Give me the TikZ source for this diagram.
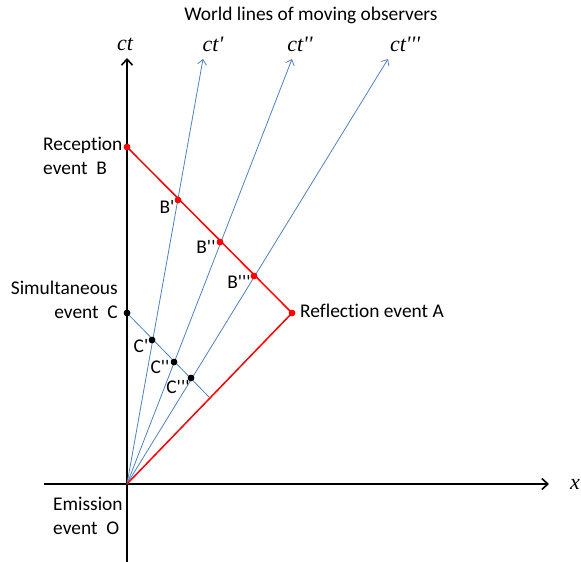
\documentclass[tikz,border=0pt]{standalone}
\usepackage{fontspec}
\setmainfont[Ligatures=NoCommon]{Carlito}
\newfontfamily\serifit{Liberation Serif}
\usetikzlibrary{arrows.meta}
\definecolor{wlblue}{RGB}{79,129,189}
\tikzset{
  axisline/.style={line width=2pt,-{Straight Barb[length=6pt,width=11pt,line width=1.6pt]}},
  wline/.style={wlblue,line width=0.8pt,-{Straight Barb[length=5pt,width=9pt,line width=0.8pt]}},
  redline/.style={red,line width=1.5pt},
  rdot/.style={circle,fill=red,inner sep=0pt,minimum size=6.5pt},
  bdot/.style={circle,fill=black,inner sep=0pt,minimum size=6.5pt},
  lbl/.style={font=\fontsize{19.4}{23.5}\selectfont,inner sep=0pt},
  axlbl/.style={font=\fontsize{22}{24}\serifit\itshape,inner sep=0pt},
}
\begin{document}
\begin{tikzpicture}[x=1pt,y=-1pt]
\useasboundingbox (0,0) rectangle (581,562);
% key points
\coordinate (O) at (127,484);
\coordinate (Ybot) at (127,562);
\coordinate (Ytop) at (127,58);
\coordinate (Xl) at (44,484);
\coordinate (Xr) at (549,484);
\coordinate (T1) at (203,59);
\coordinate (T2) at (292,59);
\coordinate (T3) at (388,59);
\coordinate (D) at (209,397);
% axes
\draw[axisline] (Ybot) -- (Ytop);
\draw[axisline] (Xl) -- (Xr);
% world lines
\draw[wline] (O) -- (T1);
\draw[wline] (O) -- (T2);
\draw[wline] (O) -- (T3);
% event points
\node[rdot] (A) at (292,313) {};
\node[rdot] (B) at (127,147) {};
\node[rdot] (B1) at (178,200) {};
\node[rdot] (B2) at (220,242) {};
\node[rdot] (B3) at (254,276) {};
\node[bdot] (C) at (127,313) {};
\node[bdot] (C1) at (152,340) {};
\node[bdot] (C2) at (174,362) {};
\node[bdot] (C3) at (191,378) {};
% light path and simultaneity line
\draw[redline] (O) -- (A.center) -- (B.center);
\draw[wlblue,line width=0.8pt] (C.center) -- (D);
% dots on top
\foreach \n in {A,B,B1,B2,B3} \fill[red] (\n) circle (3.25pt);
\foreach \n in {C,C1,C2,C3} \fill[black] (\n) circle (3.25pt);
% axis labels
\node[axlbl] (lct) at (125,44) {ct};
\node[axlbl] (lct1) at (213,44) {ct\textquotesingle};
\node[axlbl] (lct2) at (300,44) {ct\textquotesingle\textquotesingle};
\node[axlbl] (lct3) at (405,44) {ct\textquotesingle\textquotesingle\textquotesingle};
\node[axlbl] (lx) at (575,484) {x};
% title
\node[lbl] (title) at (311,15) {World lines of moving observers};
% event labels
\node[lbl,anchor=west,align=left] (lB) at (43,156) {Reception\\event\ \ B};
\node[lbl,anchor=east,align=right] (lC) at (118,300) {Simultaneous\\event\ \ C};
\node[lbl,anchor=west,align=left] (lO) at (53,516) {Emission\\event\ \ O};
\node[lbl,anchor=west] (lA) at (300,311) {Reflection event A};
% point labels
\node[lbl] (lB1) at (167,207) {B\textquotesingle};
\node[lbl] (lB2) at (206,247) {B\textquotesingle\textquotesingle};
\node[lbl] (lB3) at (239,282) {B\textquotesingle\textquotesingle\textquotesingle};
\node[lbl] (lC1) at (141,346) {C\textquotesingle};
\node[lbl] (lC2) at (160,367) {C\textquotesingle\textquotesingle};
\node[lbl] (lC3) at (178,387) {C\textquotesingle\textquotesingle\textquotesingle};
\end{tikzpicture}
\end{document}
